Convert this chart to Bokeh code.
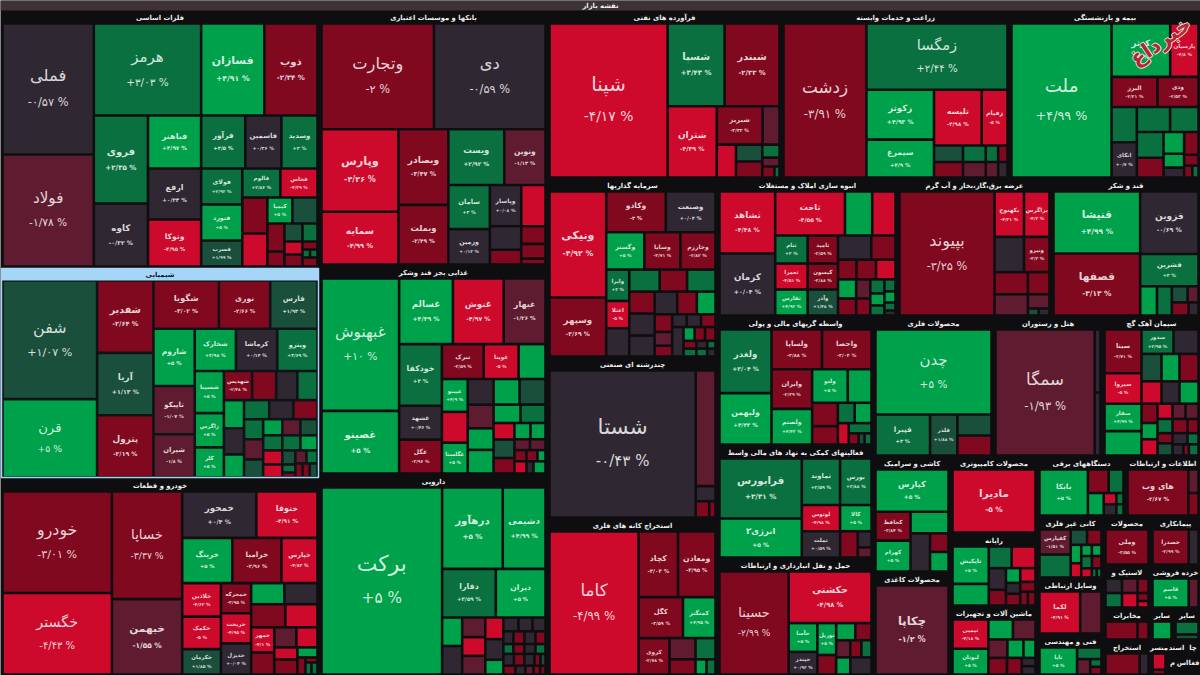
from bokeh.plotting import figure
from bokeh.models import Range1d, ColumnDataSource
from bokeh.core.properties import value, field
from bokeh.embed import file_html
from bokeh.resources import INLINE

_ = ""
chart_title = "نقشه بازار"

# Each sector: tile names ("" = too small for a label), daily change in %, market size,
# and the order in which the treemap splits it (R = side by side, C = stacked, . = a tile).
metals_names = ["فملی","فولاد","هرمز","فسازان","ذوب","فروی","کاوه","فباهنر","ارفع","وتوکا","فرآور","فاسمین","وسدید","فولای","فنورد","فسرب","فالوم","فخاس",_,_,"کیمیا"] + [_]*11
metals_change = [-0.57,-1.78,3.03,4.91,-2.34,2.35,-0.32,4.97,0.34,-4.95,3.5,0.36,3,2.92,5,1.99,2.86,-4.39,-3,-4.5,5,1.5,-3,-3,1.5,3,-4.5,-3,-3,3,3,-2.5]
metals_size = [11921,10192,9844,5796,4876,4752,3402,2809,2703,2491,2332,1908,1908,1476,1476,1066,1102,1073,900,825,650,650,476,255,324,270,234,216,120,60,60,135]
metals_tree = "R[C[..]C[R[...]R[C[..]C[...]C[R[...]R[C[...]C[R[..]R[C[..]C[R[..]R[C[..]C[R[..]R[C[..]C[.R[..]."

chem_names = ["شفن","قرن","شفدیر","آریا","پترول","شگویا","نوری","فارس","شاروم","تاپیکو","شیران","شخارک","کرماشا","ویترو","شسینا","زاگرس","کلر","شهدیس"] + [_]*28
chem_change = [1.07,5,-2.64,1.13,-2.19,-3.02,-2.66,1.93,5,-1.07,-1.8,4.98,0.14,3.69,5,5,5,-2.48,-3,0,2.5,4.5,0,4.8,3,0,-3.5,2.5,-1.8,1.5,4.5,-1.5,1.5,3,3,4.5,-4,-4,1.5,3,-3,-1.5,3,-3.5,-3,1.5]
chem_size = [11092,7332,4032,3472,3472,3120,2448,2256,2337,1968,1763,1722,1722,1680,1218,986,870,812,696,609,580,560,520,460,475,456,456,380,380,342,304,288,272,285,270,255,266,247,182,104,65,143,143,100,100,108]
chem_tree = "R[C[..]C[...]C[R[...]R[C[...]C[R[...]R[C[...]C[R[....]R[C[...]C[R[...]R[C[...]C[R[...]R[...]R[C[..]C[...]C[R[..]R[..."

auto_names = ["خودرو","خگستر","خساپا","خبهمن","خمحور","ختوقا","خرینگ","خزامیا","خپارس","خلاذین","خکمک","خکرمان","خمحرکه","خریخت","خدیزل",_,_,_,_,"خمهر"] + [_]*10
auto_change = [-3.01,-4.43,-3.37,-1.55,0.4,-4.91,5,-2.96,-4.83,-4.62,-5,1.85,-3.95,-4.95,0.04,5,0,-3,-4.5,-4.1,-2.5,-1.5,-4.5,-4.5,-3,5,-3,-3,3,3]
auto_size = [11009,8829,7490,5250,3404,2806,2250,2205,1620,1287,1248,975,900,900,930,693,693,782,736,575,506,440,420,276,345,200,136,60,72,72]
auto_tree = "R[C[..]C[..]C[R[..]R[...]R[C[...]C[...]C[R[..]R[..]R[C[..]C[R[..]R[C[..]C[.R[.C[.R[.."

bank_names = ["وتجارت","دی","وپارس","سمایه","وبصادر","وبملت","ویست","ونوین","سامان","وزمین","وپاسار"] + [_]*6
bank_change = [-2,-0.59,-4.26,-4.99,-3.47,-2.49,2.92,-1.13,3,0.13,0.08,0,-3,-4.5,-3,-3,-3]
bank_size = [11978,11872,6391,4081,3800,3000,3135,2310,1845,1476,1302,744,465,1008,432,360,144]
bank_tree = "C[R[..]R[C[..]C[..]C[R[..]R[C[..]C[...]C[...."

food_names = ["غبهنوش","غصینو","غسالم","غنوش","غبهار","خودکفا","غشهد","غگل","تبرک","غویتا",_,"غپینو",_,"غگلستا"] + [_]*21
food_change = [10,5,4.49,-4.97,-1.26,3,0.46,-3.96,-3.59,-5,5,4.9,-4.5,5,0,-1.5,5,5,5,1.5,5,3,-4.5,1.5,-3,5,5,-1.5,-1.5,-3,-3,4.5,-4.5,0,5]
food_size = [10062,4758,3456,3264,2688,2580,1419,1419,1428,1190,918,832,780,780,650,598,546,598,650,650,486,450,336,378,315,256,240,165,165,132,121,88,144,84,144]
food_tree = "R[C[..]C[R[...]R[C[...]C[R[...]R[C[...]C[....]C[R[..]R[..]R[C[...]C[R[..]R[..]R[...]R[..."

pharma_names = ["برکت","درهآور","دشیمی","دفارا","دیران"] + [_]*29
pharma_change = [5,5,4.99,3.59,5,5,0,-1.5,-4.5,-1.5,-4.5,0,5,0,0,0,0,-3,0,-3,3,-3,0,3,0,-3,0,-3,1,-3,0,-1.5,-3,-3]
pharma_size = [22869,5002,3526,2646,2450,580,580,460,437,437,396,378,270,210,196,182,130,143,143,130,100,110,110,100,126,126,120,72,60,108,90,72,60,48]
pharma_tree = "R[.C[R[..]R[..]R[C[..]C[...]C[...]C[R[...]R[....]R[....]R[.....]R[....."

oil_names = ["شپنا","شسپا","شبندر","شتران","شبریز"] + [_]*8
oil_change = [-4.17,3.43,-2.33,-4.39,-2.32,-1.5,-4.5,1.5,-3,3,-1.5,-3,2]
oil_size = [18054,4674,4510,3479,1748,646,627,442,416,221,153,132,55]
oil_tree = "R[.C[R[..]R[.C[R[..]R[.C[..]C[..R[.."

agri_names = ["زدشت","زمگسا","زکوثر","سیمرغ","تلیسه","زفیام"] + [_]*8
agri_change = [-3.91,2.44,4.93,4.9,-4.98,-5,1.5,-3,2.5,-1.5,3,-1.5,-3,0]
agri_size = [12699,9295,3350,2546,2640,1430,476,448,374,352,204,192,153,144]
agri_tree = "R[.C[.R[C[..]C[R[..]R[C[..]C[..]C[..]C[.."

ins_names = ["ملت","کوثر","پارسیان","البرز","ودی",_,"انکای"] + [_]*11
ins_change = [4.99,5,-4.8,-2.21,-2.53,2.5,0.7,2.5,2.5,2.5,-3,4.5,5,0,-3,-3,-3,2.5]
ins_size = [15147,3074,1484,1363,1218,875,875,816,696,676,520,440,280,200,322,154,96,72]
ins_tree = "R[.C[R[..]R[..]R[C[..]C[R[..]R[C[..]C[...]C[..R[.."

invest_names = ["ونیکی","وسپهر","وکادو","وصنعت","وگستر","وسایا","وخارزم","وایرا","اعتلا"] + [_]*26
invest_change = [-4.92,-3.69,-3,0.04,5,-3.71,-2.82,3,-5,0,2.5,-3,3,-3,0,0,0,-3,5,-3,-1.5,-3,0,0,-3,0,5,-3,-3,-3,0,3,3,3,0]
invest_size = [5936,3304,2400,2000,1406,1332,1295,713,621,644,660,594,616,550,550,525,506,440,418,306,238,187,182,182,182,330,150,142,142,100,84,64,100,84,64]
invest_tree = "R[C[..]C[R[..]R[...]R[C[...]C[R[...]R[C[...]C[R[...]R[C[...]C[R[...]R[.C[R[...]R[...]R[..."

multi_names = ["شستا"] + [_]*4
multi_change = [-0.43,-1.5,0,-3,-3]
multi_size = [21609,2300,300,221,102]
multi_tree = "R[.C[..R[.."

mining_names = ["کاما","کچاد","ومعادن","کگل","کمنگنز","کروی"] + [_]*5
mining_change = [-4.99,-3.04,-3.95,-3.59,4.95,-2.78,-1.5,-3,2.5,4.5,2.5]
mining_size = [12600,2560,2432,1800,1320,1116,546,390,420,165,135]
mining_tree = "R[.C[R[..]R[..]R[.C[..]C[.R[.."

mass_names = ["ثشاهد","کرمان","ثاخت",_,_,"ثنام","ثعمرا","ثفارس","ثامید","کیسون","وآذر"] + [_]*16
mass_change = [-4.48,0.04,-4.55,5,-4.5,3,-4.51,4.92,-2.59,-2.88,1.48,0,-3,-3,-3,-4.5,4.5,-3,-1.5,-3,2.5,4.5,2.5,2.5,4,2,0]
mass_size = [3410,3410,3036,1188,1012,896,832,832,840,780,780,792,576,360,380,380,342,306,266,238,196,168,140,132,121,88,55]
mass_tree = "R[C[..]C[R[...]R[C[...]C[...]C[R[..]R[...]R[C[..]C[..]C[...]C[...."

power_names = ["بپیوند","بکهنوج","بزاگرس",_,"ونیرو"] + [_]*6
power_change = [-3.25,-4.31,-4.3,0,-3.3,-3,-3,-1.5,-1.5,1.5,0]
power_size = [11904,1350,1170,1050,910,748,484,714,308,77,77]
power_tree = "R[.C[R[..]R[..]R[..]R[.C[.R[.."

sugar_names = ["قنیشا","قصفها","قزوین","قشرین"] + [_]*6
sugar_change = [4.99,-3.13,-0.69,3,5,3,1.5,-1.5,-3,0]
sugar_size = [5394,5394,3658,1888,493,435,256,176,221,130]
sugar_tree = "R[C[..]C[..R[..C[R[..]R[.."

broker_names = ["ولغدر","ولبهمن","ولساپا","واحصا","وایران","ولصنم","ولتو"] + [_]*10
broker_change = [3.04,4.44,-2.88,-2.04,-2.39,4.43,5,5,-3,-3,3,4.5,-4.5,2.5,-3,1.5,2]
broker_size = [3286,2650,1989,1950,1599,1435,1188,792,598,468,340,340,231,230,110,66,77]
broker_tree = "R[C[..]C[R[..]R[C[..]C[R[..]R[C[..]C[R[..]R[.C[.R[..."

fin_names = ["فرابورس","انرژی۳","تماوند","بورس","لوتوس","کالا","تملت",_,_,_]
fin_change = [3.31,5,2.59,3.88,-4.98,5,0.59,-3,0,-1.5]
fin_size = [4980,3237,1794,1472,1014,832,1014,468,224,140]
fin_tree = "R[C[..]C[R[..]R[..]R[..C[.."

trans_names = ["حسینا","حکشتی","حآسا","حپندر","نوریل"] + [_]*8
trans_change = [-2.99,-4.98,5,0.92,5,-3,5,-3,-1.5,-3,2,5,0]
trans_size = [7000,4200,812,638,589,361,323,272,238,187,170,238,357]
trans_tree = "R[.C[.R[C[..]C[..]C[R[..]R[...]R[.."

mprod_names = ["چدن","فپیرا","فلذر",_,_]
mprod_change = [5,3,1.88,1,-3]
mprod_size = [10115,2296,1148,735,700]
mprod_tree = "C[.R[..C[.."

hotel_names = ["سمگا",_,_]
hotel_change = [-1.93,0,0]
hotel_size = [12648,372,372]
hotel_tree = "R[.C[.."

cement_names = ["سیتا","سیزوا","سفار",_,"سدور"] + [_]*23
cement_change = [-2.71,-5,4.99,5,2.95,0,1.5,4.5,-3,-4.5,0,5,-3,4.5,-4.5,-4.5,-1.5,-1.5,2,-3,1.5,-3,-3,0,2,0,-3,2]
cement_size = [1591,1110,999,888,768,600,540,486,513,440,396,418,304,256,256,225,195,195,210,150,180,210,154,165,121,120,60,106]
cement_tree = "R[C[....]C[R[..]R[...]R[...]R[C[...]C[R[...]R[C[...]C[R[..]R[..]R[..."

ceramic_names = ["کپارس","کحافظ","کهرام",_,_,_,_]
ceramic_change = [5,-3.84,5,5,0,-3,5]
ceramic_size = [3075,1008,1080,819,740,342,361]
ceramic_tree = "C[.R[C[..]C[.R[.C[.."

rayane_names = ["تاپکیش"] + [_]*12
rayane_change = [5,5,2.5,-4.5,0,-3,4.5,0,-3,-4.5,-3,-3,-3]
rayane_size = [1444,836,528,550,396,288,225,165,180,224,160,112,112]
rayane_tree = "R[C[..]C[R[..]R[C[..]C[...]C[..R[.."

machine_names = ["تپمپی","لبوتان"] + [_]*9
machine_change = [-4.18,5,5,-1.5,-1.5,5,5,-3,-3,0,0]
machine_size = [962,851,450,414,323,272,204,285,225,105,105]
machine_tree = "R[C[..]C[R[..]R[...]R[..C[.."

device_names = ["بایکا"] + [_]*7
device_change = [5,-3,3,5,-4.5,2.5,0,2.5]
device_size = [2205,483,345,352,140,80,140,80]
device_tree = "R[.C[R[..]R[.C[R[..]R[.."

nonmetal_names = ["کفپارس"] + [_]*12
nonmetal_change = [-1.51,3,1.5,-3,4.5,-4.5,4.5,2.5,-4.5,4.5,-3,3,3]
nonmetal_size = [792,726,255,225,198,154,121,132,99,110,120,45,45]
nonmetal_tree = "R[C[..]C[R[..]R[C[..]C[...]C[..R[.."

engin_names = ["تاپا"] + [_]*4
engin_change = [5,3,-1.5,2,-3]
engin_size = [1120,312,224,96,96]
engin_tree = "R[.C[.R[.C[.."

tire_names = [_]*7
tire_change = [0,2,-1.5,-4.5,-3,-3,-4.5]
tire_size = [270,270,255,255,180,100,80]
tire_tree = "R[C[..]C[..]C[..."

# title, market size of the whole sector, then the tile lists above
sector_titles = ["فلزات اساسی","شیمیایی","خودرو و قطعات","بانکها و موسسات اعتباری","غذایی بجز قند وشکر","دارویی",
    "فرآورده های نفتی","زراعت و خدمات وابسته","بیمه و بازنشستگی","سرمایه گذاریها","چندرشته ای صنعتی","استخراج کانه های فلزی",
    "انبوه سازی املاک و مستغلات","عرضه برق،گاز،بخار و آب گرم","قند و شکر","واسطه گریهای مالی و پولی","فعالیتهای کمکی به نهاد های مالی واسط","حمل و نقل انبارداری و ارتباطات",
    "محصولات فلزی","هتل و رستوران","سیمان آهک گچ","کاشی و سرامیک","محصولات کاغذی","محصولات کامپیوتری","رایانه","ماشین آلات و تجهیزات",
    "دستگاههای برقی","اطلاعات و ارتباطات","کانی غیر فلزی","وسایل ارتباطی","فنی و مهندسی","محصولات","پیمانکاری","لاستیک و","خرده فروشی",
    "مخابرات","سایر","سایر","استخراج","منسر","استد","چا","م","اس","فغا"]
sector_sizes = [81983,67309,62843,58140,47652,45828,39312,38304,32088,30430,27370,26690,24840,21252,20562,20124,17628,18252,
    16800,15260,13720,8932,7931,6699,6351,6003,5280,4500,4092,3696,2706,2303,2450,2021,2150,1504,736,864,1645,595,270,225,200,200,260]
sector_tiles = [
    (metals_names,metals_change,metals_size,metals_tree),(chem_names,chem_change,chem_size,chem_tree),(auto_names,auto_change,auto_size,auto_tree),
    (bank_names,bank_change,bank_size,bank_tree),(food_names,food_change,food_size,food_tree),(pharma_names,pharma_change,pharma_size,pharma_tree),
    (oil_names,oil_change,oil_size,oil_tree),(agri_names,agri_change,agri_size,agri_tree),(ins_names,ins_change,ins_size,ins_tree),
    (invest_names,invest_change,invest_size,invest_tree),(multi_names,multi_change,multi_size,multi_tree),(mining_names,mining_change,mining_size,mining_tree),
    (mass_names,mass_change,mass_size,mass_tree),(power_names,power_change,power_size,power_tree),(sugar_names,sugar_change,sugar_size,sugar_tree),
    (broker_names,broker_change,broker_size,broker_tree),(fin_names,fin_change,fin_size,fin_tree),(trans_names,trans_change,trans_size,trans_tree),
    (mprod_names,mprod_change,mprod_size,mprod_tree),(hotel_names,hotel_change,hotel_size,hotel_tree),(cement_names,cement_change,cement_size,cement_tree),
    (ceramic_names,ceramic_change,ceramic_size,ceramic_tree),(["چکاپا"],[-1.2],[6675],"."),(["مادیرا"],[-5],[5246],"."),
    (rayane_names,rayane_change,rayane_size,rayane_tree),(machine_names,machine_change,machine_size,machine_tree),
    (device_names,device_change,device_size,device_tree),(["های وب",_,_],[-2.67,-1.5,-3],[2700,230,220],"R[.C[.."),
    (nonmetal_names,nonmetal_change,nonmetal_size,nonmetal_tree),(["لکما",_],[-4.91,-1.5],[1806,946],"R[.."),(engin_names,engin_change,engin_size,engin_tree),
    (["وملی"],[-3.55],[1739],"."),(["خصدرا",_],[-2.99,0],[1369,370],"R[.."),(tire_names,tire_change,tire_size,tire_tree),(["قاسم",_],[5,-1.5],[1110,300],"R[.."),
    ([_,_],[-2.2,-2.2],[630,216],"R[.."),([_],[5],[432],"."),([_,_],[3,1.5],[260,100],"C[.."),([_,_],[-2.5,0],[620,160],"R[.."),([_,_],[-4.5,-3],[200,60],"C[.."),
    ([],[],[],""),([],[],[],""),([],[],[],""),([],[],[],""),([],[],[],""),
]
sector_tree = "R[C[...]C[...]C[R[...]R[C[...]C[R[...]R[C[...]C[R[...]R[C[..]C[...]C[R[..]R[C[...]C[R[..]R[..]R[...]R[..C[R[..]R[..."
highlighted_sector = "شیمیایی"
highlight = "#a5d6f5"


def parse(tree):
    """Turn a split string into nested nodes; a leaf is the index of its value."""
    pos, leaf = 0, 0
    def read():
        nonlocal pos, leaf
        ch = tree[pos]
        if ch == ".":
            pos += 1
            leaf += 1
            return leaf - 1
        kind = ch
        pos += 2
        kids = []
        while pos < len(tree) and tree[pos] != "]":
            kids.append(read())
        pos += 1
        return (kind, kids)
    root = read()
    return root, leaf


def weight(node, sizes):
    return sizes[node] if isinstance(node, int) else sum(weight(k, sizes) for k in node[1])


def place(node, sizes, x0, y0, x1, y1, out):
    if isinstance(node, int):
        out[node] = (x0, y0, x1, y1)
        return
    kind, kids = node
    total = weight(node, sizes)
    at = x0 if kind == "R" else y0
    for k in kids:
        share = weight(k, sizes) / total
        if kind == "R":
            nxt = at + (x1 - x0) * share
            place(k, sizes, at, y0, nxt, y1, out)
        else:
            nxt = at + (y1 - y0) * share
            place(k, sizes, x0, at, x1, nxt, out)
        at = nxt


def tile_color(c):
    if c >= 4: return "#00a14b"
    if c >= 2: return "#0a7040"
    if c >= 1: return "#1a4f3c"
    if c > -1: return "#2f2833"
    if c > -2: return "#5f1c30"
    if c > -4: return "#80081f"
    return "#cd0a2c"


def tint(hexcolor, t=0.82):
    rgb = [int(hexcolor[i:i + 2], 16) for i in (1, 3, 5)]
    return "#%02x%02x%02x" % tuple(int(v + (255 - v) * t) for v in rgb)


FA = str.maketrans("0123456789", "۰۱۲۳۴۵۶۷۸۹")
def pct_label(c):
    sign = "+" if c > 0 else ("-" if c < 0 else "")
    body = ("%.2f" % abs(c)).rstrip("0").rstrip(".").replace(".", "/")
    return sign + body.translate(FA) + " %"


W, H = 1200, 675
HEADER = 13

top_root, n_sectors = parse(sector_tree)
assert n_sectors == len(sector_titles) == len(sector_sizes) == len(sector_tiles)
rects = {}
place(top_root, sector_sizes, 0, 10, 1200, 675, rects)

t = dict(l=[], r=[], t=[], b=[], c=[])
lab = dict(x=[], y=[], text=[], fs=[], col=[], st=[])
pct = dict(x=[], y=[], text=[], fs=[], col=[], st=[])
hd = dict(x=[], y=[], text=[], col=[])
hl_rect = None
for i, title in enumerate(sector_titles):
    x0, y0, x1, y1 = rects[i]
    hd["x"].append((x0 + x1) / 2)
    hd["y"].append(y0 + 7)
    hd["text"].append(title)
    is_hl = title == highlighted_sector
    hd["col"].append("#06202e" if is_hl else "#f0f0f0")
    if is_hl:
        hl_rect = (x0, y0, x1, y1)
    names, change, sizes, tree = sector_tiles[i]
    if not tree:
        continue
    root, n = parse(tree)
    assert n == len(names) == len(change) == len(sizes), title
    out = {}
    place(root, sizes, x0 + 2, y0 + HEADER, x1 - 2, y1 - 1, out)
    for k in range(n):
        a, b, c, d = out[k]
        a, b, c, d = a + 1.3, b + 1.3, c - 1.3, d - 1.3
        col = tile_color(change[k])
        t["l"].append(a); t["r"].append(c); t["t"].append(b); t["b"].append(d); t["c"].append(col)
        if names[k]:
            w, h = c - a, d - b
            s = min(1.8 + 0.125 * (w * h) ** 0.5, w / (0.62 * len(names[k]) + 0.3))
            s = max(s, 5.5)
            style = "normal" if s >= 12 else "bold"
            if style == "normal":
                s *= 1.08
            ink = tint(col)
            lab["x"].append((a + c) / 2); lab["y"].append((b + d) / 2 - 0.8 * s)
            lab["text"].append(names[k]); lab["fs"].append("%.1fpx" % s); lab["col"].append(ink); lab["st"].append(style)
            pct["x"].append((a + c) / 2); pct["y"].append((b + d) / 2 + 0.8 * s)
            pct["text"].append(pct_label(change[k])); pct["fs"].append("%.1fpx" % max(s * 0.7, 4.5)); pct["col"].append(ink); pct["st"].append(style)

p = figure(width=W, height=H, output_backend="svg", toolbar_location=None,
           x_range=Range1d(0, 1200), y_range=Range1d(675, 0), min_border=0,
           background_fill_color="#0e0e10", border_fill_color="#0e0e10", outline_line_color=None)
p.axis.visible = False
p.grid.visible = False

p.quad(left=[0], right=[1200], top=[0], bottom=[10], fill_color="#3f3236", line_color=None)
hx0, hy0, hx1, hy1 = hl_rect
p.quad(left=[hx0 + 1], right=[hx1 - 1], top=[hy0 + 1], bottom=[hy1 - 1], fill_color="#0e1416", line_color=highlight, line_width=1.5)
p.quad(left=[hx0 + 1], right=[hx1 - 1], top=[hy0 + 1], bottom=[hy0 + HEADER], fill_color=highlight, line_color=None)
p.quad(left="l", right="r", top="t", bottom="b", fill_color="c", line_color=None, source=ColumnDataSource(t))

FONT = value("DejaVu Sans")
p.text(x=[600], y=[5], text=[chart_title], text_font=FONT, text_font_size="6.8px", text_font_style="bold",
       text_color="#f0f0f0", text_align="center", text_baseline="middle")
p.text(x="x", y="y", text="text", source=ColumnDataSource(hd), text_font=FONT, text_font_size="6.8px",
       text_font_style="bold", text_color="col", text_align="center", text_baseline="middle")
p.text(x="x", y="y", text="text", source=ColumnDataSource(lab), text_font=FONT, text_font_size=field("fs"), text_font_style=field("st"),
       text_color="col", text_align="center", text_baseline="middle")
p.text(x="x", y="y", text="text", source=ColumnDataSource(pct), text_font=FONT, text_font_size=field("fs"), text_font_style=field("st"),
       text_color="col", text_align="center", text_baseline="middle")

# site watermark over the top right corner
for dx, dy, col in [(-1, 0, "#f2e6d8"), (1, 0, "#f2e6d8"), (0, -1, "#f2e6d8"), (0, 1, "#f2e6d8"), (0, 0, "#b0263a")]:
    p.text(x=[1160 + dx], y=[41 + dy], text=["خبرداغ"], text_font=FONT, text_font_size="21px", text_font_style="bold",
           text_color=col, text_align="center", text_baseline="middle", angle=0.6)

open("out.html", "w").write(file_html(p, INLINE))
